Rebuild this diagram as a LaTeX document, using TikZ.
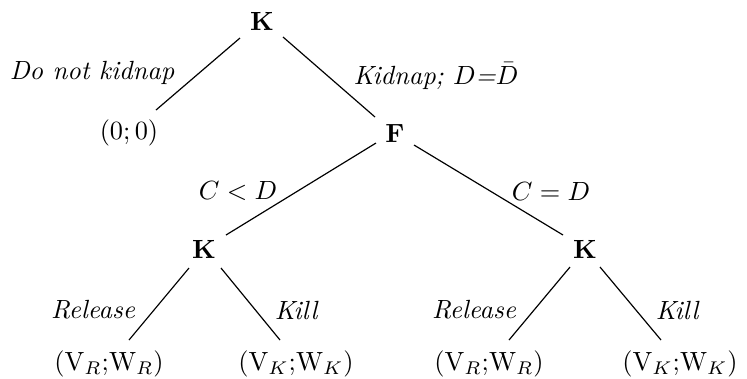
\documentclass[tikz,border=0pt]{standalone}
\begin{document}
\begin{tikzpicture}[x=0.38pt,y=-0.38pt,
  player/.style={inner sep=0pt,font=\bfseries},
  payoff/.style={inner sep=0pt},
  move/.style={inner sep=0pt,font=\itshape},
  branch/.style={line width=0.45pt}]
\useasboundingbox (0,0) rectangle (747,378);

% decision nodes
\node[player] (k0) at (262,21) {K};
\node[player] (f)  at (395,134) {F};
\node[player] (k1) at (204,249) {K};
\node[player] (k2) at (585,249) {K};

% payoffs
\node[payoff] (n00) at (129,133) {$(0;0)$};
\node[payoff] (l1) at (109,364) {(V$_R$;W$_R$)};
\node[payoff] (l2) at (296,364) {(V$_K$;W$_K$)};
\node[payoff] (l3) at (489,364) {(V$_R$;W$_R$)};
\node[payoff] (l4) at (680,364) {(V$_K$;W$_K$)};

% branch labels
\node[move] (dnk) at (92,73) {Do not kidnap};
\node[move] (kid) at (436,76) {Kidnap; $D$=$\bar{D}$};
\node[inner sep=0pt] (clt) at (238,191) {$C<D$};
\node[inner sep=0pt] (ceq) at (551,191) {$C=D$};
\node[move] (rel1) at (93,310) {Release};
\node[move] (kil1) at (296,310) {Kill};
\node[move] (rel2) at (474,310) {Release};
\node[move] (kil2) at (677,310) {Kill};

% branches
\draw[branch] ([shift={(-22,17)}]k0.center) -- ([shift={(27,-23)}]n00.center);
\draw[branch] ([shift={(21,16)}]k0.center) -- ([shift={(-20,-17)}]f.center);
\draw[branch] ([shift={(-19,9)}]f.center) -- ([shift={(22,-14)}]k1.center);
\draw[branch] ([shift={(19,11)}]f.center) -- ([shift={(-22,-14)}]k2.center);
\draw[branch] ([shift={(-15,19)}]k1.center) -- ([shift={(20,-24)}]l1.center);
\draw[branch] ([shift={(17,19)}]k1.center) -- ([shift={(-16,-24)}]l2.center);
\draw[branch] ([shift={(-15,18)}]k2.center) -- ([shift={(20,-24)}]l3.center);
\draw[branch] ([shift={(15,18)}]k2.center) -- ([shift={(-19,-24)}]l4.center);
\end{tikzpicture}
\end{document}
